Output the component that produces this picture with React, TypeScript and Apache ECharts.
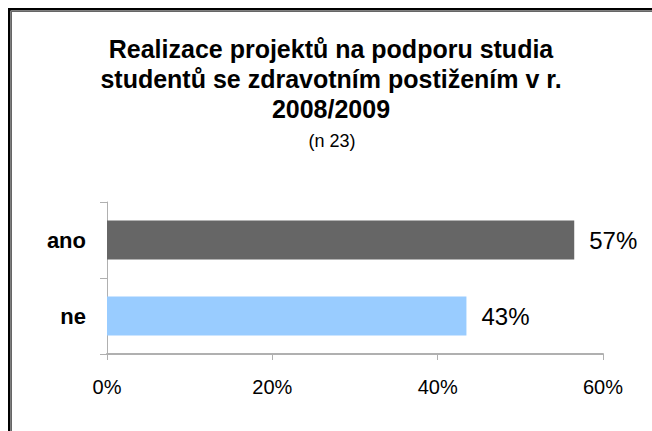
import React, { useEffect, useRef } from "react";
import * as echarts from "echarts";

const titleLines = [
  "Realizace projektů na podporu studia",
  "studentů se zdravotním postižením v r.",
  "2008/2009",
];
const subtitle = "(n 23)";
const categories = ["ano", "ne"];
const values = [56.52, 43.48];
const barColors = ["#666666", "#99ccff"];
const xTicks = [0, 20, 40, 60];

const FONT = "'Liberation Sans', Arial, sans-serif";

export default function App() {
  const ref = useRef<HTMLDivElement>(null);
  useEffect(() => {
    if (!ref.current) return;
    const chart = echarts.init(ref.current, null, { renderer: "svg" });
    chart.setOption({
      animation: false,
      backgroundColor: "#ffffff",
      textStyle: { fontFamily: FONT },
      title: [
        {
          text: titleLines.join("\n"),
          left: 326,
          top: 29,
          textAlign: "center",
          textStyle: {
            fontFamily: FONT,
            fontSize: 25,
            fontWeight: "bold",
            color: "#000",
            lineHeight: 30,
          },
        },
        {
          text: subtitle,
          left: 327,
          top: 126,
          textAlign: "center",
          textStyle: {
            fontFamily: FONT,
            fontSize: 18,
            fontWeight: "normal",
            color: "#000",
            lineHeight: 20,
          },
        },
      ],
      graphic: [
        { type: "rect", shape: { x: 8, y: 8, width: 2.5, height: 440 }, style: { fill: "#000" } },
        { type: "rect", shape: { x: 8, y: 8, width: 660, height: 2.5 }, style: { fill: "#000" } },
        { type: "rect", shape: { x: 11, y: 11, width: 1, height: 440 }, style: { fill: "#666" } },
        { type: "rect", shape: { x: 11, y: 11, width: 660, height: 1 }, style: { fill: "#666" } },
      ],
      grid: { left: 107, right: 49, top: 202, bottom: 77, containLabel: false },
      xAxis: {
        type: "value",
        min: xTicks[0],
        max: xTicks[xTicks.length - 1],
        interval: xTicks[1] - xTicks[0],
        axisLine: { show: true, lineStyle: { color: "#b0b0b0", width: 2 } },
        axisTick: { show: true, length: 6, lineStyle: { color: "#b0b0b0", width: 1 } },
        splitLine: { show: false },
        axisLabel: {
          formatter: "{value}%",
          fontFamily: FONT,
          fontSize: 20,
          color: "#000",
          margin: 23,
        },
      },
      yAxis: {
        type: "category",
        data: categories,
        inverse: true,
        axisLine: { show: true, lineStyle: { color: "#b0b0b0", width: 1 } },
        axisTick: { show: true, length: 7, lineStyle: { color: "#b0b0b0", width: 1 } },
        axisLabel: {
          fontFamily: FONT,
          fontSize: 22,
          fontWeight: "bold",
          color: "#000",
          margin: 21,
        },
      },
      series: [
        {
          type: "bar",
          barWidth: "51%",
          data: values.map((v, i) => ({ value: v, itemStyle: { color: barColors[i] } })),
          label: {
            show: true,
            position: "right",
            distance: 15,
            fontFamily: FONT,
            fontSize: 24,
            color: "#000",
            formatter: (p: any) => Math.round(p.value) + "%",
          },
        },
      ],
    });
    return () => chart.dispose();
  }, []);
  return (
    <div
      ref={ref}
      style={{ position: "fixed", left: 0, top: 0, width: 652, height: 431 }}
    />
  );
}
